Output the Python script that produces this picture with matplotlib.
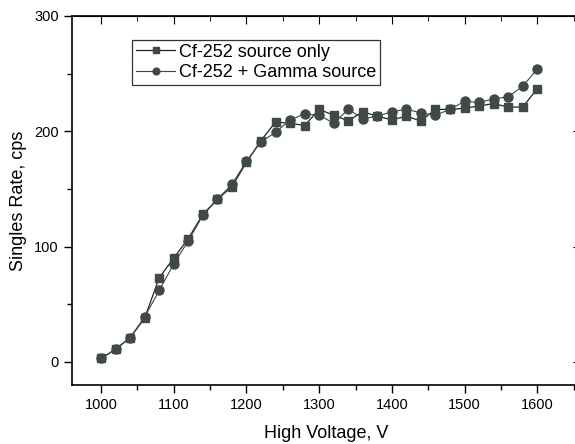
import matplotlib.pyplot as plt
from matplotlib.ticker import MultipleLocator

plt.rcParams['font.family'] = ['Liberation Sans', 'DejaVu Sans']

voltage = [1000, 1020, 1040, 1060, 1080, 1100, 1120, 1140, 1160, 1180,
           1200, 1220, 1240, 1260, 1280, 1300, 1320, 1340, 1360, 1380,
           1400, 1420, 1440, 1460, 1480, 1500, 1520, 1540, 1560, 1580, 1600]

cf_only = [3, 11, 21, 38, 73, 90, 107, 128, 141, 152,
           173, 192, 208, 207, 205, 219, 214, 209, 217, 213,
           210, 213, 209, 219, 219, 220, 222, 224, 221, 221, 237]

cf_gamma = [3, 11, 21, 39, 62, 85, 105, 127, 141, 154,
            174, 191, 199, 210, 215, 214, 207, 219, 211, 213,
            217, 219, 216, 214, 219, 226, 225, 228, 230, 239, 254]

fig = plt.figure(figsize=(5.75, 4.44), dpi=100)
ax = fig.add_axes([0.1252, 0.133, 0.885, 0.831])

marker_col = '#3f4a48'
ax.plot(voltage, cf_only, color='#222222', lw=0.9, marker='s', ms=6,
        mfc=marker_col, mec=marker_col, label='Cf-252 source only')
ax.plot(voltage, cf_gamma, color='#444444', lw=0.8, marker='o', ms=6.5,
        mfc=marker_col, mec=marker_col, label='Cf-252 + Gamma source')

ax.set_xlim(960, 1660)
ax.set_ylim(-20, 300)
ax.xaxis.set_major_locator(MultipleLocator(100))
ax.xaxis.set_minor_locator(MultipleLocator(50))
ax.yaxis.set_major_locator(MultipleLocator(100))
ax.yaxis.set_minor_locator(MultipleLocator(50))
ax.tick_params(which='major', direction='out', length=6, width=1, labelsize=10.5)
ax.tick_params(which='minor', direction='out', length=3.5, width=1)

# mirrored ticks on top/right point inward
top = ax.secondary_xaxis('top')
top.xaxis.set_major_locator(MultipleLocator(100))
top.xaxis.set_minor_locator(MultipleLocator(50))
top.tick_params(which='major', direction='in', length=6, labeltop=False)
top.tick_params(which='minor', direction='in', length=3.5)
right = ax.secondary_yaxis('right')
right.yaxis.set_major_locator(MultipleLocator(100))
right.yaxis.set_minor_locator(MultipleLocator(50))
right.tick_params(which='major', direction='in', length=6, labelright=False)
right.tick_params(which='minor', direction='in', length=3.5)

for s in ax.spines.values():
    s.set_linewidth(1.2)

ax.set_xlabel('High Voltage, V', fontsize=13, labelpad=9)
ax.set_ylabel('Singles Rate, cps', fontsize=13, labelpad=5)

leg = ax.legend(loc='upper left', bbox_to_anchor=(0.118, 0.935), fontsize=13,
                frameon=True, fancybox=False, edgecolor='black',
                borderpad=0.2, handlelength=2.2, handletextpad=0.2,
                labelspacing=0.2, borderaxespad=0, markerscale=0.75)
leg.get_frame().set_linewidth(0.9)

fig.savefig('out.png', dpi=100)
